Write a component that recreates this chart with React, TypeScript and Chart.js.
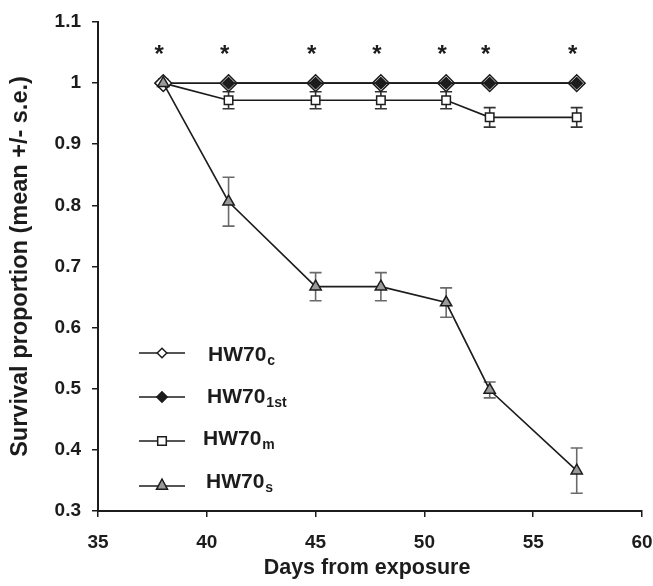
import React, { useEffect, useRef } from 'react';
import { Chart, registerables } from 'chart.js';

Chart.register(...registerables);

// ---- data ----
const days = [38, 41, 45, 48, 51, 53, 57];
const hw70c = [1, 1, 1, 1, 1, 1, 1];
const hw70first = [null, 1, 1, 1, 1, 1, 1];
const hw70m = [1, 0.972, 0.972, 0.972, 0.972, 0.944, 0.944];
const hw70mErr = [0, 0.014, 0.014, 0.014, 0.014, 0.016, 0.016];
const hw70s = [1, 0.806, 0.667, 0.667, 0.641, 0.498, 0.366];
const hw70sErr = [0, 0.04, 0.023, 0.023, 0.024, 0.013, 0.037];
const starDays = [38, 41, 45, 48, 51, 53, 57];
const starLevel = 1.058;
const xMin = 35, xMax = 60, xStep = 5;
const yMin = 0.3, yMax = 1.1, yStep = 0.1;
const legendBase = 'HW70';
const legendSubs = ['c', '1st', 'm', 's'];
const xTitle = 'Days from exposure';
const yTitle = 'Survival proportion (mean +/- s.e.)';

const INK = '#1c1c1c';
const GRAY = '#9a9a9a';
const FONT = "'Liberation Sans', Arial, sans-serif";

function pts(vals: (number | null)[]) {
  return days
    .map((d, i) => ({ x: d, y: vals[i] }))
    .filter((p) => p.y !== null) as { x: number; y: number }[];
}

function diamond(ctx: CanvasRenderingContext2D, x: number, y: number, r: number) {
  ctx.beginPath();
  ctx.moveTo(x - r, y);
  ctx.lineTo(x, y - r);
  ctx.lineTo(x + r, y);
  ctx.lineTo(x, y + r);
  ctx.closePath();
}

const errorBars = {
  id: 'errorBars',
  beforeDatasetsDraw(chart: any) {
    const { ctx, scales } = chart;
    const xs = scales.x, ys = scales.y;
    const series = [
      { v: hw70m, e: hw70mErr, c: '#333333' },
      { v: hw70s, e: hw70sErr, c: '#6a6a6a' },
    ];
    ctx.save();
    ctx.lineWidth = 1.6;
    for (const s of series) {
      ctx.strokeStyle = s.c;
      s.v.forEach((v, i) => {
        const e = s.e[i];
        if (!e) return;
        const x = xs.getPixelForValue(days[i]);
        const yt = ys.getPixelForValue(v + e);
        const yb = ys.getPixelForValue(v - e);
        ctx.beginPath();
        ctx.moveTo(x, yt);
        ctx.lineTo(x, yb);
        ctx.moveTo(x - 6, yt);
        ctx.lineTo(x + 6, yt);
        ctx.moveTo(x - 6, yb);
        ctx.lineTo(x + 6, yb);
        ctx.stroke();
      });
    }
    ctx.restore();
  },
};

const extras = {
  id: 'extras',
  afterDraw(chart: any) {
    const { ctx, scales, chartArea } = chart;
    const xs = scales.x, ys = scales.y;
    ctx.save();
    // stars
    ctx.fillStyle = INK;
    ctx.font = `bold 24px ${FONT}`;
    ctx.textAlign = 'center';
    ctx.textBaseline = 'alphabetic';
    starDays.forEach((d) => {
      const x = xs.getPixelForValue(d) - 4;
      const y = ys.getPixelForValue(starLevel);
      ctx.fillText('*', x, y + 0.58 * 24);
    });

    // legend
    const rowY = [353, 397, 441, 486];
    const textX = [208, 207, 203, 206];
    const textDy = [0, -2, -4, -6];
    ctx.lineWidth = 1.5;
    legendSubs.forEach((sub, i) => {
      const y = rowY[i];
      ctx.strokeStyle = INK;
      ctx.beginPath();
      ctx.moveTo(139, y);
      ctx.lineTo(185, y);
      ctx.stroke();
      const mx = 162;
      ctx.lineWidth = 1.5;
      if (i === 0) {
        diamond(ctx, mx, y, 4.8);
        ctx.fillStyle = '#fff';
        ctx.fill();
        ctx.stroke();
      } else if (i === 1) {
        diamond(ctx, mx, y, 5.2);
        ctx.fillStyle = INK;
        ctx.fill();
        ctx.stroke();
      } else if (i === 2) {
        ctx.beginPath();
        ctx.rect(mx - 4.3, y - 4.3, 8.6, 8.6);
        ctx.fillStyle = '#fff';
        ctx.fill();
        ctx.stroke();
      } else {
        ctx.beginPath();
        ctx.moveTo(mx, y - 7);
        ctx.lineTo(mx + 5.5, y + 3.3);
        ctx.lineTo(mx - 5.5, y + 3.3);
        ctx.closePath();
        ctx.fillStyle = GRAY;
        ctx.fill();
        ctx.stroke();
      }
      ctx.fillStyle = INK;
      ctx.textAlign = 'left';
      ctx.textBaseline = 'alphabetic';
      ctx.font = `bold 21px ${FONT}`;
      const base = y + textDy[i] + 7.5;
      ctx.fillText(legendBase, textX[i], base);
      const w = ctx.measureText(legendBase).width;
      ctx.font = `bold 14px ${FONT}`;
      ctx.fillText(sub, textX[i] + w + 1, base + 4);
    });

    // axis titles
    ctx.fillStyle = INK;
    ctx.font = `bold 21.5px ${FONT}`;
    ctx.textAlign = 'center';
    ctx.textBaseline = 'middle';
    ctx.fillText(xTitle, (chartArea.left + chartArea.right) / 2 - 3, 568);
    ctx.save();
    ctx.font = `bold 23.5px ${FONT}`;
    ctx.translate(21, (chartArea.top + chartArea.bottom) / 2);
    ctx.rotate(-Math.PI / 2);
    ctx.fillText(yTitle, 0, 0);
    ctx.restore();
    ctx.restore();
  },
};

export default function App() {
  const ref = useRef<HTMLCanvasElement | null>(null);
  useEffect(() => {
    document.body.style.margin = '0';
    const canvas = ref.current!;
    const line = { showLine: true, borderColor: INK, borderWidth: 1.6, pointBorderColor: INK, pointBorderWidth: 1.5 };
    const chart = new Chart(canvas, {
      type: 'scatter',
      data: {
        datasets: [
          { ...line, label: 'HW70s', data: pts(hw70s), pointStyle: 'triangle', pointRadius: 6.5, pointBackgroundColor: GRAY },
          { ...line, label: 'HW70 1st', data: pts(hw70first), pointStyle: 'rectRot', pointRadius: 5.6, pointBackgroundColor: INK },
          { ...line, label: 'HW70c', data: pts(hw70c), pointStyle: 'rectRot', pointRadius: 8.4, pointBackgroundColor: '#fff' },
          { ...line, label: 'HW70m', data: pts(hw70m), pointStyle: 'rect', pointRadius: 6, pointBackgroundColor: '#fff' },
        ] as any,
      },
      options: {
        animation: false,
        responsive: false,
        events: [],
        layout: { padding: { top: 22, right: 11, left: 0, bottom: 0 } },
        plugins: { legend: { display: false }, tooltip: { enabled: false } },
        scales: {
          x: {
            type: 'linear',
            min: xMin,
            max: xMax,
            ticks: { stepSize: xStep, color: INK, padding: 14, font: { family: FONT, size: 19, weight: 'bold' } },
            grid: { drawOnChartArea: false, tickLength: 6, color: INK, lineWidth: 1.5 },
            border: { color: INK, width: 2 },
            afterFit: (s: any) => { s.height = 75; s.paddingLeft = 0; s.paddingRight = 0; },
          },
          y: {
            type: 'linear',
            min: yMin,
            max: yMax,
            ticks: {
              stepSize: yStep,
              color: INK,
              padding: 11,
              font: { family: FONT, size: 19, weight: 'bold' },
              callback: (v: any) => String(Number(Number(v).toFixed(1))),
            },
            grid: { drawOnChartArea: false, tickLength: 6, color: INK, lineWidth: 1.5 },
            border: { color: INK, width: 2 },
            afterFit: (s: any) => { s.width = 98; s.paddingTop = 0; s.paddingBottom = 0; },
          },
        },
      } as any,
      plugins: [errorBars, extras],
    });
    return () => chart.destroy();
  }, []);
  return <canvas ref={ref} width={653} height={586} style={{ display: 'block' }} />;
}
